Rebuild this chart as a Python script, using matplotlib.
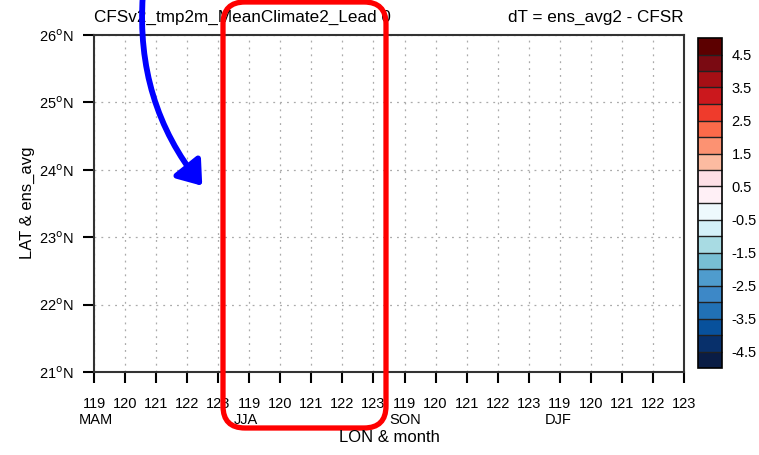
import matplotlib
matplotlib.use("Agg")
import matplotlib.pyplot as plt
import numpy as np
from matplotlib.colors import ListedColormap, BoundaryNorm
from matplotlib.cm import ScalarMappable
from matplotlib.patches import FancyBboxPatch, FancyArrowPatch
from matplotlib.transforms import blended_transform_factory

plt.rcParams["font.family"] = ["Liberation Sans", "DejaVu Sans"]

# Data
seasons = ["MAM", "JJA", "SON", "DJF"]
lon_labels = ["119", "120", "121", "122", "123"]
lat_ticks = [21, 22, 23, 24, 25, 26]
levels = [-4.5, -4.0, -3.5, -3.0, -2.5, -2.0, -1.5, -1.0, -0.5, 0.0,
          0.5, 1.0, 1.5, 2.0, 2.5, 3.0, 3.5, 4.0, 4.5]
cbar_labels = [-4.5, -3.5, -2.5, -1.5, -0.5, 0.5, 1.5, 2.5, 3.5, 4.5]
colors = ["#0a1d45", "#08306b", "#08519c", "#2171b5", "#3d88c7",
          "#4f9ccd", "#78bfd4", "#a8dbe3", "#d4f0f8", "#eef9fd",
          "#fff0f6", "#fde0e6", "#fcbba1", "#fc9272", "#fb6a4a",
          "#ef3b2c", "#cb181d", "#a50f15", "#7a0a12", "#5c0000"]

title_left = "CFSv2_tmp2m_MeanClimate2_Lead 0"
title_right = "dT = ens_avg2 - CFSR"

fig = plt.figure(figsize=(7.59, 4.55), dpi=100)
ax = fig.add_axes([94 / 759, 1 - 372 / 455, 590 / 759, 337 / 455])

xlabels = lon_labels * len(seasons)
xpos = np.arange(len(xlabels))
ax.set_xlim(xpos[0], xpos[-1])
ax.set_ylim(lat_ticks[0], lat_ticks[-1])

ax.set_xticks(xpos)
ax.set_xticklabels(xlabels, fontsize=10.5)
ax.set_yticks(lat_ticks)
ax.set_yticklabels([f"{v}$^\\mathrm{{o}}$N" for v in lat_ticks], fontsize=10.5)
ax.tick_params(direction="out", length=8, width=1.5)
ax.tick_params(axis="x", pad=10)
ax.tick_params(axis="y", pad=7)

for s in ax.spines.values():
    s.set_linewidth(1.5)
    s.set_color("#333333")

ax.grid(True, color="#aaaaaa", linestyle=(0, (1.5, 4)), linewidth=0.9)

# season labels under first tick of each block
trans = blended_transform_factory(ax.transData, ax.transAxes)
for i, s in enumerate(seasons):
    ax.text(xpos[i * len(lon_labels)] - 0.5, -0.143, s, transform=trans,
            fontsize=10.5, ha="left", va="center")

fig.text(389 / 759, 1 - 438 / 455, "LON & month", fontsize=12,
         ha="center", va="center")
fig.text(27 / 759, 1 - 203 / 455, "LAT & ens_avg", fontsize=12,
         ha="center", va="center", rotation=90)
ax.text(0, 1.03, title_left, transform=ax.transAxes, fontsize=12.3,
        ha="left", va="bottom")
ax.text(1, 1.03, title_right, transform=ax.transAxes, fontsize=12.3,
        ha="right", va="bottom")

# colorbar
cax = fig.add_axes([698 / 759, 1 - 368 / 455, 24 / 759, 330 / 455])
cmap = ListedColormap(colors)
bounds = [levels[0] - 0.5] + levels + [levels[-1] + 0.5]
norm = BoundaryNorm(bounds, cmap.N)
cb = fig.colorbar(ScalarMappable(norm=norm, cmap=cmap), cax=cax,
                  boundaries=bounds, ticks=cbar_labels, drawedges=True)
cb.ax.minorticks_off()
cb.ax.set_yticklabels([f"{v:g}" for v in cbar_labels], fontsize=10.5)
cb.ax.tick_params(which="both", length=0, pad=7)
cb.outline.set_linewidth(1.2)
cb.dividers.set_linewidth(1.0)
cb.dividers.set_color("#222222")

# annotations (red box and blue arrow)
box = FancyBboxPatch((2.23, 0.27), 1.63, 4.26,
                     boxstyle="round,pad=0,rounding_size=0.22",
                     transform=fig.dpi_scale_trans, fill=False,
                     edgecolor="#ff0000", linewidth=3.8, clip_on=False)
fig.add_artist(box)
arrow = FancyArrowPatch((1.43, 4.62), (2.04, 2.67),
                        connectionstyle="arc3,rad=0.2",
                        arrowstyle="-|>,head_length=0.55,head_width=0.4",
                        mutation_scale=25, color="#0000ff", linewidth=4.2,
                        transform=fig.dpi_scale_trans, clip_on=False)
fig.add_artist(arrow)

fig.savefig("out.png", dpi=100)
